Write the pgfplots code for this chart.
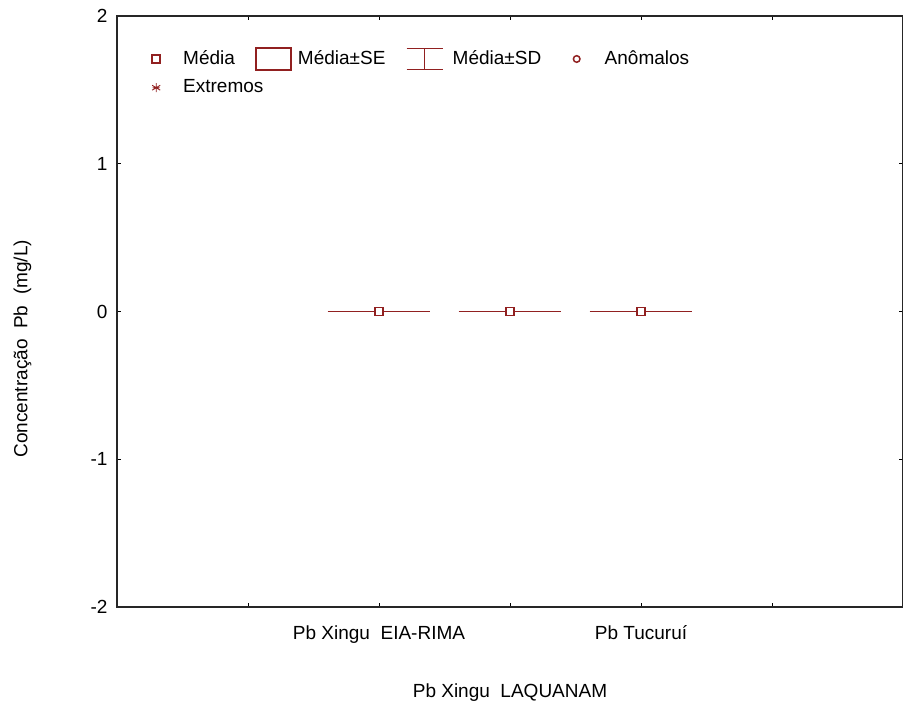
\documentclass[border=0pt]{standalone}
\usepackage{pgfplots}
\pgfplotsset{compat=1.18}
\usepackage{fontspec}
\setmainfont{Liberation Sans}
\definecolor{dred}{RGB}{145,32,32}
\begin{document}
\fontsize{19bp}{22bp}\selectfont
\begin{tikzpicture}
\useasboundingbox (0,0) rectangle (903bp,704bp);
\begin{axis}[
  at={(117bp,97bp)}, anchor=south west,
  scale only axis, width=786bp, height=591bp,
  xmin=0, xmax=6, ymin=-2, ymax=2,
  clip=false,
  xtick={1,2,3,4,5},
  xticklabels={,Pb Xingu\ \ EIA-RIMA,,Pb Tucuruí,},
  ytick={-2,-1,0,1,2},
  tick align=inside, major tick length=4bp,
  tick style={black, line width=0.8bp},
  axis line style={line width=1.3bp, black!85},
  /pgf/number format/assume math mode=true,
  xticklabel style={text height=13.6bp, text depth=4bp, yshift=-12.5bp},
  yticklabel style={xshift=-3bp},
  ylabel={Concentração\ \ Pb\ \ (mg/L)},
  ylabel style={at={(axis description cs:-0.1139,0.437)}, anchor=base},
  legend columns=4,
  legend cell align=left,
  legend style={at={(axis description cs:0.0369,0.9475)}, anchor=north west,
    draw=none, fill=none, inner sep=0pt, column sep=0pt, row sep=6bp,
    nodes={inner sep=0pt}},
]
% boxes (mean +- SE and mean +- SD, all collapsed at 0)
\addplot[forget plot, dred, line width=1.6bp] coordinates {(1.6075,0) (2.3925,0)};
\addplot[forget plot, dred, line width=1.6bp] coordinates {(2.6075,0) (3.3925,0)};
\addplot[forget plot, dred, line width=1.6bp] coordinates {(3.6075,0) (4.3925,0)};
% means
\addplot[forget plot, only marks, mark=square*, mark size=4.2bp, dred,
  line width=1.5bp, mark options={fill=white}] coordinates {(2,0) (3,0) (4,0)};
% legend
\addlegendimage{legend image code/.code={\path[draw=none] (0,-11bp) rectangle (37bp,11bp);
  \draw[dred, line width=1.5bp, fill=white] (6bp,-4bp) rectangle (14bp,4bp);}}
\addlegendentry{\makebox[72bp][l]{Média}}
\addlegendimage{legend image code/.code={\path[draw=none] (0,-11bp) rectangle (42bp,11bp);
  \draw[dred, line width=1.5bp] (0,-11bp) rectangle (35bp,11bp);}}
\addlegendentry{\makebox[108bp][l]{Média±SE}}
\addlegendimage{legend image code/.code={\path[draw=none] (0,-11bp) rectangle (46bp,11bp);
  \draw[dred, line width=1.5bp] (0,-10.5bp) -- (36bp,-10.5bp) (0,10.5bp) -- (36bp,10.5bp)
  (18bp,-10.5bp) -- (18bp,10.5bp);}}
\addlegendentry{\makebox[114bp][l]{Média±SD}}
\addlegendimage{legend image code/.code={\path[draw=none] (0,-11bp) rectangle (38bp,11bp);
  \draw[dred, line width=1.5bp] (10bp,0) circle (3.3bp);}}
\addlegendentry{Anômalos}
\addlegendimage{legend image code/.code={\path[draw=none] (0,-11bp) rectangle (37bp,11bp);
  \draw[dred, line width=0.9bp] (10bp,-4.5bp) -- (10bp,4.5bp) (6bp,-2.4bp) -- (14bp,2.4bp)
  (6bp,2.4bp) -- (14bp,-2.4bp) (6.5bp,0) -- (13.5bp,0);}}
\addlegendentry{\makebox[72bp][l]{Extremos}}
\node[anchor=north, inner sep=0pt, yshift=-77bp] at (axis cs:3,-2) {Pb Xingu\ \ LAQUANAM};
\end{axis}
\end{tikzpicture}
\end{document}
